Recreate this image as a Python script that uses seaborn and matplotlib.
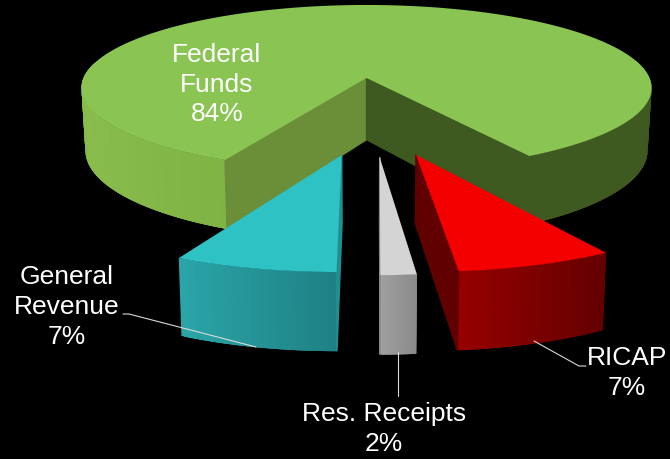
import numpy as np
import matplotlib
matplotlib.use('Agg')
import matplotlib.pyplot as plt
import seaborn as sns

# Slice data, going round the pie. Shares, labels as printed.
categories = ['Federal\nFunds', 'General\nRevenue', 'Res. Receipts', 'RICAP']
shares = [84.0, 7.3, 1.6, 7.1]
share_labels = ['84%', '7%', '2%', '7%']

# Colours for the top, the rim (left to right) and the cut faces.
top_colors = ['#8ac452', '#2fc2c4', '#d4d4d4', '#f40000']
rim_colors = [['#88bc4b', '#7bb142', '#3e5a20', '#3e5a20'],
              ['#2aa5a8', '#1e8084'],
              ['#a0a0a0', '#8a8a8a'],
              ['#960000', '#640000']]
left_face_colors = ['#3e5a20', None, '#8a8a8a', '#600000']
right_face_colors = ['#6a8f38', '#1f8f92', None, None]

# Label placement, in pixels.
label_x = [217, 67, 384, 627]
label_y = [84.5, 307, 429, 373]

# Leader lines.
leader_x = [[123, 129, 256], [398, 398], [534, 579, 586]]
leader_y = [[315, 315, 348], [353, 397], [342, 367, 367]]

# Fake 3D: camera perspective and slice pull-out.
cx, cy = 366.5, 79
rx, ry = 283, 81.8
persp = 0.12
depth = 61.6
narrow = 0.014
start_angle = 31.1
explode_x = [0, 0.34, 0.9, 0.5]
explode_y = [0, 0.87, 0.87, 0.89]

sns.set_theme(style='dark', rc={'figure.facecolor': 'black', 'axes.facecolor': 'black'})
plt.rcParams['font.family'] = ['Liberation Sans', 'DejaVu Sans']


def project(u, v, z=0.0):
    s = 1 / (1 - persp * v)
    x = cx + rx * u * s * (1 - narrow * z)
    y = cy + ry * v * s + depth * z * s
    return x, y


fig = plt.figure(figsize=(6.7, 4.6), dpi=100)
ax = fig.add_axes([0, 0, 1, 1])
ax.set_xlim(0, 670)
ax.set_ylim(460, 0)
ax.axis('off')

ends = start_angle + np.cumsum(shares) / sum(shares) * 360
starts = np.r_[start_angle, ends[:-1]]

for i in range(len(shares)):
    a0, a1 = np.radians(starts[i]), np.radians(ends[i])
    mid = (a0 + a1) / 2
    u0 = explode_x[i] * np.sin(mid)
    v0 = explode_y[i] * np.cos(mid)

    n = max(int(np.degrees(a1 - a0) * 2), 40)
    angles = np.linspace(a0, a1, n + 1)
    us = u0 + np.sin(angles)
    vs = v0 + np.cos(angles)

    # Rim as thin strips shaded across the slice, each one overlaps the next to hide seams.
    palette = sns.blend_palette(rim_colors[i], 64)
    front = vs > -0.2
    xs = project(us, vs)[0]
    x_min, x_max = xs[front].min(), xs[front].max()
    for j in range(n):
        if not front[j]:
            continue
        k = min(j + 3, n)
        t = ((xs[j] + xs[j + 1]) / 2 - x_min) / (x_max - x_min)
        color = palette[int(np.clip(t, 0, 1) * 63)]
        seg_u, seg_v = us[j:k + 1], vs[j:k + 1]
        px_top, py_top = project(seg_u, seg_v)
        px_bot, py_bot = project(seg_u, seg_v, 1)
        ax.fill(np.r_[px_top, px_bot[::-1]], np.r_[py_top, py_bot[::-1]], color=color, lw=0)

    # Cut faces, with an edge so no gap shows against the rim.
    for color, a in [(right_face_colors[i], a1), (left_face_colors[i], a0)]:
        if color is None:
            continue
        ue, ve = u0 + np.sin(a), v0 + np.cos(a)
        px, py = zip(project(u0, v0), project(ue, ve), project(ue, ve, 1), project(u0, v0, 1))
        ax.fill(px, py, color=color, lw=1.0)

    # Top of the slice.
    tx, ty = project(np.r_[u0, us], np.r_[v0, vs])
    ax.fill(tx, ty, color=top_colors[i], lw=0)

for lx, ly in zip(leader_x, leader_y):
    ax.plot(lx, ly, color='#d9d9d9', lw=0.8)

for name, share, x, y in zip(categories, share_labels, label_x, label_y):
    ax.text(x, y, f'{name}\n{share}', color='white', fontsize=19,
            ha='center', va='center', linespacing=1.3)

fig.savefig('out.png', dpi=100, facecolor='black')
